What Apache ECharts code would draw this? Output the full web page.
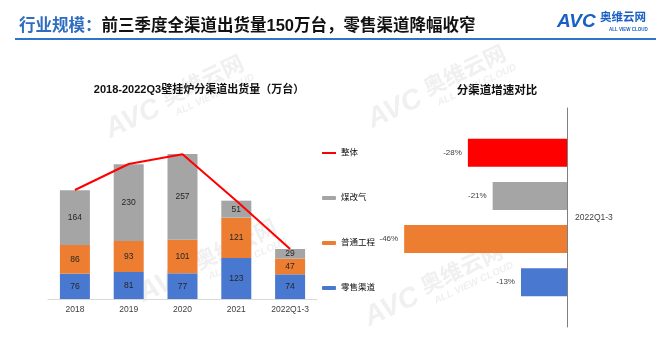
<!DOCTYPE html>
<html><head><meta charset="utf-8">
<script src="https://cdn.jsdelivr.net/npm/echarts@6/dist/echarts.min.js"></script>
<style>html,body{margin:0;padding:0;background:#fff}#c{width:672px;height:348px}</style>
</head><body><div id="c"></div>
<script>
// ---- data ----
const years = ['2018', '2019', '2020', '2021', '2022Q1-3'];
const retail = [76, 81, 77, 123, 74];
const engineering = [86, 93, 101, 121, 47];
const coalToGas = [164, 230, 257, 51, 29];
const total = [327, 405, 434, 295, 150];
const growthCategory = ['2022Q1-3'];
const growthNames = ['整体', '煤改气', '普通工程', '零售渠道'];
const growthValues = [-28, -21, -46, -13];

const FONT = '"Liberation Sans", "Noto Sans CJK SC", sans-serif';
const C_BLUE = '#4878d0', C_ORANGE = '#ed7d31', C_GRAY = '#a5a5a5', C_RED = '#ff0000';
const growthColors = [C_RED, C_GRAY, C_ORANGE, C_BLUE];
const WM = '#f0f0f0';

const chart = echarts.init(document.getElementById('c'), null, {renderer: 'canvas'});

const innerLabel = {show: true, position: 'inside', fontSize: 8.5, color: '#262626', fontFamily: FONT};

const series = [
  {name: '零售渠道', type: 'bar', stack: 's', xAxisIndex: 0, yAxisIndex: 0, barWidth: 30,
   itemStyle: {color: C_BLUE}, label: innerLabel, data: retail},
  {name: '普通工程', type: 'bar', stack: 's', xAxisIndex: 0, yAxisIndex: 0, barWidth: 30,
   itemStyle: {color: C_ORANGE}, label: innerLabel, data: engineering},
  {name: '煤改气', type: 'bar', stack: 's', xAxisIndex: 0, yAxisIndex: 0, barWidth: 30,
   itemStyle: {color: C_GRAY}, label: innerLabel, data: coalToGas},
  {name: '整体', type: 'line', xAxisIndex: 0, yAxisIndex: 0, symbol: 'none', z: 5,
   lineStyle: {color: C_RED, width: 2}, itemStyle: {color: C_RED},
   label: {show: true, position: 'top', distance: 6, fontSize: 8.5, color: '#404040', fontFamily: FONT},
   data: total}
];
growthNames.forEach((n, i) => {
  series.push({
    name: n + '增速', type: 'bar', xAxisIndex: 1, yAxisIndex: 1, barWidth: 28, barGap: '54%',
    itemStyle: {color: growthColors[i]},
    label: {show: true, position: 'left', distance: 6, fontSize: 8, color: '#404040', fontFamily: FONT,
            formatter: p => p.value + '%'},
    data: [growthValues[i]]
  });
});

function watermark(x, y) {
  return {
    type: 'group', x: x, y: y, rotation: 0.44, z: -10, silent: true,
    children: [
      {type: 'text', x: 0, y: 0, z: -10, style: {text: 'AVC', font: 'italic bold 28px "Liberation Sans"', fill: WM, textVerticalAlign: 'bottom'}},
      {type: 'text', x: 64, y: -9, z: -10, style: {text: '奥维云网', font: 'bold 22px "Noto Sans CJK SC"', fill: WM, textVerticalAlign: 'bottom'}},
      {type: 'text', x: 70, y: 4, z: -10, style: {text: 'ALL VIEW CLOUD', font: 'italic bold 10px "Liberation Sans"', fill: WM, textVerticalAlign: 'bottom'}}
    ]
  };
}

chart.setOption({
  animation: false,
  backgroundColor: '#fff',
  textStyle: {fontFamily: FONT},
  title: [
    {text: '{a|行业规模：}{b|前三季度全渠道出货量150万台，零售渠道降幅收窄}', left: 14, top: 13,
     textStyle: {rich: {
       a: {fontSize: 16.5, fontWeight: 'bold', color: '#2e6dbf', fontFamily: FONT},
       b: {fontSize: 16.5, fontWeight: 'bold', color: '#111', fontFamily: FONT}}}},
    {text: '2018-2022Q3壁挂炉分渠道出货量（万台）', left: 194, top: 79, textAlign: 'center',
     textStyle: {fontSize: 11, fontWeight: 'bold', color: '#111', fontFamily: FONT}},
    {text: '分渠道增速对比', left: 492, top: 80, textAlign: 'center',
     textStyle: {fontSize: 11.5, fontWeight: 'bold', color: '#111', fontFamily: FONT}}
  ],
  graphic: [
    watermark(113, 144),
    watermark(375, 134),
    watermark(146, 308),
    watermark(372, 332),
    {type: 'rect', shape: {x: 15, y: 38, width: 641, height: 2}, style: {fill: '#2e75c9'}},
    {type: 'text', x: 557, y: 12, style: {text: 'AVC', font: 'italic bold 19px "Liberation Sans"', fill: '#1a5fc4'}},
    {type: 'text', x: 600, y: 11, style: {text: '奥维云网', font: 'bold 11.5px "Noto Sans CJK SC"', fill: '#1a5fc4'}},
    {type: 'text', x: 609, y: 27, style: {text: 'ALL VIEW CLOUD', font: 'bold 4.5px "Liberation Sans"', fill: '#1a5fc4'}}
  ],
  legend: {
    orient: 'vertical', left: 322, top: 147, padding: 0, itemWidth: 14, itemHeight: 4, itemGap: 33,
    data: [{name: '整体', icon: 'path://M0,0H14V2H0Z'}, '煤改气', '普通工程', '零售渠道'],
    textStyle: {fontSize: 8.5, color: '#111', fontFamily: FONT, lineHeight: 12}
  },
  grid: [
    {left: 48, width: 269, top: 99, height: 200},
    {left: 390, width: 177, top: 108, height: 219}
  ],
  xAxis: [
    {type: 'category', gridIndex: 0, data: years,
     axisLine: {lineStyle: {color: '#d9d9d9'}}, axisTick: {show: false},
     axisLabel: {color: '#404040', fontSize: 8.5, margin: 6, fontFamily: FONT}},
    {type: 'value', gridIndex: 1, min: -50, max: 0, show: false}
  ],
  yAxis: [
    {type: 'value', gridIndex: 0, min: 0, max: 600, show: false},
    {type: 'category', gridIndex: 1, data: growthCategory, position: 'right', inverse: true,
     axisLine: {lineStyle: {color: '#7f7f7f'}}, axisTick: {show: false},
     axisLabel: {color: '#404040', fontSize: 8.5, margin: 8, fontFamily: FONT}}
  ],
  series: series
});
</script></body></html>
